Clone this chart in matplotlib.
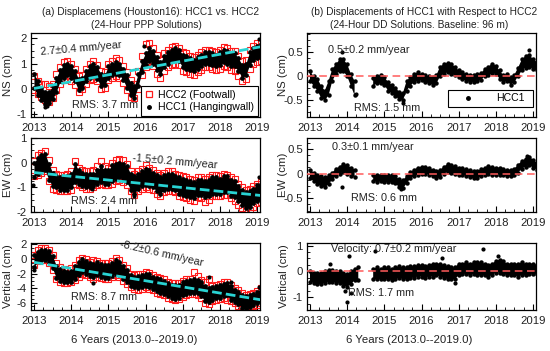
import numpy as np
import matplotlib
matplotlib.use('Agg')
import matplotlib.pyplot as plt
from matplotlib.ticker import MultipleLocator
from matplotlib.lines import Line2D

plt.rcParams['font.family'] = ['Liberation Sans', 'DejaVu Sans']
plt.rcParams['font.size'] = 8

# sample epochs (decimal year), 0.1-year spacing 2013.0 ... 2019.1
t = np.round(np.arange(2013.0, 2019.1001, 0.1), 1)
nan = np.nan

# ---------------- (a) PPP solutions, cm ----------------
ns_hcc1_lo = [0.05, -0.25, -0.45, -0.6, -0.55, -0.4, -0.1, 0.3, 0.45, 0.55,
              0.45, 0.3, -0.05, 0.05, 0.3, 0.45, 0.5, 0.4, 0.1, 0.15,
              0.45, 0.55, 0.6, 0.55, 0.35, 0.05, -0.25, -0.35, 0.1, 0.65,
              0.95, 1.1, 1.0, 0.75, 0.6, 0.85, 1.0, 1.1, 1.15, 1.1,
              0.85, 0.8, 0.75, 0.7, 0.8, 0.9, 1.0, 1.0, 0.95, 0.9,
              0.95, 1.05, 1.0, 0.9, 0.9, 0.7, 0.45, 0.55, 0.95, 1.15,
              1.2, 1.25]
ns_hcc1_hi = [0.6, 0.3, 0.05, -0.1, -0.1, 0.1, 0.45, 0.75, 0.95, 1.0,
              0.9, 0.7, 0.4, 0.45, 0.7, 0.9, 1.0, 0.85, 0.6, 0.55,
              0.9, 1.0, 1.05, 1.0, 0.8, 0.55, 0.25, 0.1, 0.6, 1.1,
              1.4, 1.6, 1.5, 1.25, 1.05, 1.3, 1.45, 1.55, 1.6, 1.55,
              1.35, 1.3, 1.2, 1.15, 1.25, 1.35, 1.45, 1.45, 1.4, 1.35,
              1.45, 1.55, 1.5, 1.4, 1.4, 1.2, 0.95, 1.0, 1.45, 1.6,
              1.7, 1.75]
ns_hcc2_lo = [-0.05, -0.2, -0.3, -0.45, -0.5, -0.35, -0.05, 0.2, 0.35, 0.4,
              0.3, 0.15, -0.1, 0.0, 0.2, 0.35, 0.4, 0.3, 0.0, 0.05,
              0.35, 0.45, 0.5, 0.45, 0.25, -0.05, -0.3, -0.35, 0.0, 0.55,
              0.85, 1.0, 0.9, 0.6, 0.45, 0.7, 0.85, 0.95, 1.0, 0.95,
              0.7, 0.65, 0.6, 0.55, 0.65, 0.75, 0.85, 0.85, 0.8, 0.75,
              0.8, 0.9, 0.85, 0.75, 0.7, 0.5, 0.3, 0.4, 0.8, 1.0,
              1.05, 1.1]
ns_hcc2_hi = [0.5, 0.3, 0.2, 0.2, 0.1, 0.2, 0.6, 0.85, 1.05, 1.1,
              1.0, 0.8, 0.5, 0.55, 0.8, 1.0, 1.1, 0.95, 0.7, 0.65,
              1.0, 1.1, 1.2, 1.15, 0.9, 0.65, 0.35, 0.2, 0.7, 1.3,
              1.75, 1.8, 1.6, 1.35, 1.15, 1.4, 1.55, 1.65, 1.7, 1.6,
              1.45, 1.4, 1.3, 1.25, 1.35, 1.45, 1.55, 1.55, 1.5, 1.45,
              1.55, 1.65, 1.6, 1.5, 1.5, 1.3, 1.1, 1.15, 1.55, 1.7,
              1.8, 1.85]

ew_hcc1_lo = [-0.6, -0.45, -0.35, -0.3, -0.7, -0.95, -1.0, -1.1, -1.1, -1.1,
              -1.0, -0.8, -0.85, -0.95, -1.0, -1.0, -0.95, -0.85, -0.8, -0.85,
              -0.85, -0.75, -0.65, -0.6, -0.7, -0.8, -1.1, -1.25, -1.05, -0.95,
              -0.9, -0.95, -1.0, -1.15, -1.25, -1.1, -1.05, -1.05, -1.1, -1.25,
              -1.3, -1.35, -1.4, -1.45, -1.3, -1.3, -1.4, -1.35, -1.25, -1.25,
              -1.25, -1.2, -1.2, -1.35, -1.4, -1.55, -1.7, -1.85, -1.8, -1.65,
              -1.55, -1.5]
ew_hcc1_hi = [0.0, 0.2, 0.3, 0.35, -0.05, -0.4, -0.55, -0.6, -0.6, -0.55,
              -0.45, -0.05, -0.3, -0.4, -0.45, -0.45, -0.45, -0.3, -0.15, -0.3,
              -0.3, -0.1, -0.05, 0.0, -0.05, -0.15, -0.45, -0.55, -0.45, -0.35,
              -0.25, -0.3, -0.4, -0.5, -0.6, -0.5, -0.45, -0.45, -0.55, -0.6,
              -0.65, -0.7, -0.75, -0.8, -0.7, -0.7, -0.75, -0.7, -0.6, -0.6,
              -0.65, -0.55, -0.55, -0.7, -0.75, -0.95, -1.1, -1.2, -1.15, -1.05,
              -0.9, -0.85]
ew_hcc2_lo = [-0.55, -0.5, -0.4, -0.35, -0.75, -1.05, -1.1, -1.15, -1.15, -1.15,
              -1.1, -0.85, -0.9, -1.0, -1.05, -1.05, -1.0, -0.9, -0.85, -0.9,
              -0.9, -0.85, -0.75, -0.7, -0.8, -0.9, -1.15, -1.3, -1.15, -1.05,
              -1.0, -1.05, -1.1, -1.25, -1.35, -1.2, -1.15, -1.15, -1.2, -1.35,
              -1.4, -1.45, -1.5, -1.55, -1.4, -1.45, -1.6, -1.5, -1.35, -1.35,
              -1.35, -1.3, -1.3, -1.45, -1.55, -1.7, -1.85, -1.9, -1.9, -1.8,
              -1.65, -1.6]
ew_hcc2_hi = [0.05, 0.3, 0.4, 0.48, 0.1, -0.3, -0.45, -0.5, -0.5, -0.45,
              -0.35, 0.05, -0.2, -0.3, -0.35, -0.35, -0.3, -0.15, 0.05, -0.15,
              -0.2, 0.0, 0.1, 0.15, 0.1, -0.05, -0.35, -0.45, -0.35, -0.25,
              -0.1, -0.2, -0.3, -0.4, -0.5, -0.4, -0.35, -0.35, -0.45, -0.5,
              -0.55, -0.6, -0.65, -0.7, -0.6, -0.6, -0.65, -0.6, -0.5, -0.5,
              -0.55, -0.45, -0.5, -0.6, -0.65, -0.85, -1.0, -1.1, -1.05, -0.95,
              -0.85, -0.8]

up_hcc1_lo = [-1.1, -0.3, -0.2, -0.1, -0.4, -1.3, -2.6, -3.0, -3.2, -3.2,
              -3.1, -2.7, -2.2, -1.8, -2.0, -2.3, -2.5, -2.2, -2.45, -2.6,
              -2.55, -2.3, -2.0, -2.2, -2.8, -3.2, -3.7, -3.9, -4.0, -3.9,
              -3.75, -3.9, -4.1, -4.4, -4.6, -4.8, -5.1, -5.3, -5.5, -5.3,
              -5.0, -4.8, -4.65, -4.6, -4.7, -5.1, -5.8, -5.9, -5.6, -5.4,
              -5.3, -5.1, -5.0, -5.6, -5.9, -6.2, -6.7, -6.9, -6.6, -6.3,
              -6.1, -5.9]
up_hcc1_hi = [0.5, 1.0, 1.25, 1.25, 1.1, 0.4, -0.9, -1.4, -1.7, -1.8,
              -1.6, -1.0, -0.4, 0.0, -0.25, -0.6, -0.7, -0.45, -0.7, -0.85,
              -0.8, -0.6, -0.1, -0.4, -1.0, -1.5, -2.2, -2.4, -2.3, -2.2,
              -2.0, -2.1, -2.4, -2.65, -2.8, -3.0, -3.3, -3.5, -3.5, -3.5,
              -3.2, -3.0, -2.9, -2.8, -2.9, -3.1, -3.7, -4.0, -3.9, -3.75,
              -3.6, -3.4, -3.3, -3.7, -4.2, -4.5, -4.9, -5.1, -5.0, -4.8,
              -4.5, -4.1]
up_hcc2_lo = [-0.8, -0.3, -0.2, -0.1, -0.5, -1.5, -2.8, -3.2, -3.35, -3.35,
              -3.2, -2.9, -2.4, -2.0, -2.2, -2.5, -2.7, -2.4, -2.6, -2.8,
              -2.7, -2.5, -2.2, -2.4, -3.0, -3.4, -3.9, -4.1, -4.2, -4.1,
              -3.9, -4.1, -4.3, -4.6, -4.8, -5.0, -5.3, -5.5, -5.6, -5.5,
              -5.2, -5.0, -4.85, -4.8, -4.9, -5.3, -6.0, -6.2, -5.8, -5.6,
              -5.5, -5.3, -5.6, -5.8, -6.1, -6.4, -6.9, -7.0, -6.8, -6.5,
              -6.3, -6.1]
up_hcc2_hi = [0.6, 1.2, 1.5, 1.5, 1.3, 0.6, -0.6, -1.1, -1.4, -1.5,
              -1.3, -0.8, -0.2, 0.2, 0.0, -0.4, -0.2, -0.3, -0.5, -0.6,
              -0.6, -0.3, 0.1, -0.2, -0.8, -1.3, -2.0, -2.2, -2.1, -2.0,
              -1.8, -1.9, -2.2, -2.45, -2.6, -2.8, -3.1, -3.3, -3.3, -3.3,
              -3.0, -2.8, -2.7, -1.8, -2.3, -2.9, -3.2, -2.8, -3.7, -3.55,
              -3.4, -3.2, -3.1, -3.5, -4.0, -4.3, -4.7, -4.9, -4.8, -4.6,
              -4.4, -4.0]

# trend lines (start at 2013.0, end at 2019.1)
trend_t = [2013.0, 2019.1]
ns_trend = [0.02, 1.66]
ew_trend = [-0.40, -1.33]
up_trend = [-0.45, -5.6]

# outlying HCC1 points (t, value)
ns_out_t, ns_out_v = [2013.3, 2013.35, 2019.05, 2015.95], [-0.72, -0.65, 1.95, 1.7]
ew_out_t, ew_out_v = [2012.98, 2015.68, 2019.05, 2014.55], [-0.9, -1.35, -0.6, -1.05]
up_out_t, up_out_v = [2013.0, 2014.6, 2017.7, 2018.3, 2019.05], [-1.5, -3.3, -2.5, -3.1, -3.8]

# ---------------- (b) DD solutions, cm ----------------
dns_lo = [-0.1, -0.2, -0.3, -0.45, -0.5, -0.4, -0.1, 0.05, 0.1, 0.1,
          0.0, -0.2, -0.4, nan, nan, nan, nan, -0.2, -0.15, -0.15,
          -0.18, -0.3, -0.35, -0.42, -0.48, -0.5, -0.3, -0.2, -0.12, -0.1,
          -0.08, -0.12, -0.15, -0.18, -0.15, 0.0, 0.05, 0.08, 0.05, 0.02,
          -0.02, -0.06, -0.1, -0.12, -0.12, -0.1, -0.08, 0.0, 0.02, 0.06,
          0.05, -0.05, -0.12, -0.1, -0.18, -0.12, 0.0, 0.12, 0.18, 0.2,
          0.15, 0.12]
dns_hi = [0.1, 0.0, -0.05, -0.2, -0.3, -0.1, 0.15, 0.25, 0.35, 0.35,
          0.25, 0.05, -0.1, nan, nan, nan, nan, -0.03, 0.0, 0.02,
          -0.02, -0.12, -0.18, -0.25, -0.32, -0.35, -0.1, -0.02, 0.05, 0.08,
          0.05, 0.02, 0.0, -0.02, 0.02, 0.2, 0.25, 0.28, 0.25, 0.2,
          0.12, 0.08, 0.05, 0.03, 0.03, 0.05, 0.06, 0.15, 0.2, 0.26,
          0.22, 0.12, 0.02, 0.05, -0.02, 0.03, 0.18, 0.35, 0.42, 0.45,
          0.35, 0.3]
dew_lo = [-0.1, -0.15, -0.22, -0.26, -0.28, -0.22, -0.12, -0.05, 0.0, 0.03,
          0.0, -0.05, -0.07, nan, nan, nan, nan, -0.15, -0.17, -0.16,
          -0.18, -0.17, -0.18, -0.2, -0.28, -0.3, -0.2, -0.1, -0.05, -0.02,
          0.0, 0.0, -0.02, -0.06, -0.1, -0.08, 0.0, 0.03, 0.02, 0.0,
          -0.02, -0.03, -0.05, -0.07, -0.1, -0.1, -0.06, -0.02, 0.0, -0.02,
          -0.03, -0.02, -0.04, -0.06, -0.06, -0.04, 0.02, 0.1, 0.14, 0.17,
          0.12, 0.08]
dew_hi = [0.08, 0.02, -0.02, -0.06, -0.08, -0.04, 0.02, 0.1, 0.14, 0.2,
          0.17, 0.12, 0.08, nan, nan, nan, nan, -0.02, -0.03, -0.03,
          -0.04, -0.03, -0.04, -0.05, -0.12, -0.14, -0.05, 0.03, 0.08, 0.12,
          0.14, 0.14, 0.12, 0.08, 0.06, 0.07, 0.14, 0.19, 0.18, 0.15,
          0.12, 0.11, 0.09, 0.08, 0.05, 0.05, 0.09, 0.12, 0.16, 0.13,
          0.12, 0.12, 0.1, 0.07, 0.08, 0.1, 0.18, 0.26, 0.3, 0.34,
          0.28, 0.22]
dup_lo = [-0.4, -0.45, -0.5, -0.5, -0.45, -0.4, -0.4, -0.45, -0.45, -0.55,
          -0.6, -0.5, -0.35, -0.35, nan, nan, nan, -0.3, -0.3, -0.3,
          -0.3, -0.3, -0.35, -0.3, -0.25, -0.3, -0.3, -0.25, -0.25, -0.2,
          -0.2, -0.25, -0.2, -0.2, -0.15, -0.2, -0.25, -0.3, -0.3, -0.3,
          -0.15, -0.1, -0.1, -0.15, -0.1, -0.15, -0.15, -0.15, -0.2, -0.15,
          -0.05, -0.05, -0.1, -0.15, -0.15, -0.15, -0.2, -0.15, -0.15, -0.1,
          -0.1, -0.1]
dup_hi = [0.0, -0.05, -0.05, -0.05, 0.0, 0.05, 0.05, 0.0, 0.0, -0.05,
          -0.1, 0.0, 0.1, 0.15, nan, nan, nan, 0.1, 0.15, 0.1,
          0.15, 0.15, 0.1, 0.15, 0.2, 0.15, 0.15, 0.2, 0.2, 0.25,
          0.25, 0.2, 0.25, 0.3, 0.3, 0.3, 0.25, 0.2, 0.15, 0.15,
          0.3, 0.3, 0.35, 0.3, 0.35, 0.35, 0.35, 0.3, 0.25, 0.3,
          0.4, 0.45, 0.4, 0.3, 0.3, 0.3, 0.3, 0.35, 0.3, 0.3,
          0.3, 0.25]
dns_out_t, dns_out_v = [2013.85, 2018.88, 2014.25, 2015.5], [0.5, 0.55, -0.38, -0.55]
dew_out_t, dew_out_v = [2013.85, 2015.45, 2018.85], [-0.27, -0.32, 0.35]
dup_out_t, dup_out_v = ([2014.0, 2014.05, 2014.75, 2017.65, 2013.95, 2014.1,
                         2018.05, 2016.55, 2013.55, 2016.9],
                        [-1.2, 0.6, 0.8, 0.85, -0.75, -0.85, 0.6, 0.5, 0.3, -0.45])

CYAN = '#29d3d3'
RED = '#ff1a1a'
ZRED = '#ff5b5b'
TXT = '#222222'

fig = plt.figure(figsize=(5.5, 3.51), dpi=100)

W = 229 / 550
lx, rx = 31 / 550, 307 / 550
rows = [(1 - 117 / 351, 84 / 351), (1 - 212 / 351, 74 / 351), (1 - 310 / 351, 67 / 351)]


def fmt_int(v, p):
    return '%d' % round(v)


def fmt_half(v, p):
    if abs(v) < 1e-9:
        return '0'
    return '%.1f' % v


def style(ax, ylim, major, minor, fmt):
    ax.set_xlim(2012.92, 2019.08)
    ax.set_ylim(*ylim)
    ax.xaxis.set_major_locator(MultipleLocator(1))
    ax.xaxis.set_minor_locator(MultipleLocator(0.25))
    ax.yaxis.set_major_locator(MultipleLocator(major))
    ax.yaxis.set_minor_locator(MultipleLocator(minor))
    ax.yaxis.set_major_formatter(plt.FuncFormatter(fmt))
    ax.tick_params(which='both', direction='in', top=False, right=False,
                   labelsize=8.2, colors='black', labelcolor=TXT)
    ax.tick_params(axis='x', pad=4)
    ax.tick_params(axis='y', pad=3)
    ax.tick_params(which='major', length=4, width=0.8)
    ax.tick_params(which='minor', length=2.5, width=0.6)
    for s in ax.spines.values():
        s.set_linewidth(0.9)


def draw_ppp(ax, lo1, hi1, lo2, hi2, trend, out_t, out_v):
    lo1, hi1, lo2, hi2 = map(np.asarray, (lo1, hi1, lo2, hi2))
    for arr in (lo2, hi2):
        ax.plot(t, arr, ls='none', marker='s', ms=4.0, mfc='none', mec=RED, mew=0.8, zorder=2)
    ax.fill_between(t, lo1, hi1, color='black', lw=0, zorder=3)
    for arr in (lo1, hi1):
        ax.plot(t, arr, ls='none', marker='o', ms=2.4, color='black', zorder=3)
    ax.plot(out_t, out_v, ls='none', marker='o', ms=2.0, color='black', zorder=3)
    ax.plot(trend_t, trend, ls=(0, (3.5, 1.5)), color=CYAN, lw=2.0, zorder=4)


def draw_dd(ax, lo, hi, out_t, out_v):
    lo, hi = np.asarray(lo), np.asarray(hi)
    ok = ~np.isnan(lo)
    ax.fill_between(t, lo, hi, where=ok, color='black', lw=0, zorder=3)
    for arr in (lo, hi):
        ax.plot(t, arr, ls='none', marker='o', ms=2.2, color='black', zorder=3)
    ax.plot(out_t, out_v, ls='none', marker='o', ms=2.0, color='black', zorder=3)
    ax.axhline(0, color=ZRED, ls=(0, (5, 3)), lw=1.1, zorder=4)


def note(ax, x, y, s, rot=0):
    ax.text(x, y, s, transform=ax.transAxes, ha='center', va='center',
            rotation=rot, fontsize=7.8, color=TXT, zorder=6)


# ---- left column ----
ax = fig.add_axes([lx, rows[0][0], W, rows[0][1]])
draw_ppp(ax, ns_hcc1_lo, ns_hcc1_hi, ns_hcc2_lo, ns_hcc2_hi, ns_trend, ns_out_t, ns_out_v)
style(ax, (-1.1, 2.2), 1, 0.25, fmt_int)
ax.set_ylabel('NS (cm)', fontsize=8.2, labelpad=3, color=TXT)
note(ax, 0.218, 0.82, '2.7±0.4 mm/year', 5)
note(ax, 0.323, 0.143, 'RMS: 3.7 mm')
h1 = Line2D([], [], ls='none', marker='s', ms=5.0, mfc='none', mec=RED, mew=0.9)
h2 = Line2D([], [], ls='none', marker='o', ms=2.5, color='black')
leg = ax.legend([h1, h2], ['HCC2 (Footwall)', 'HCC1 (Hangingwall)'], loc='lower right',
                bbox_to_anchor=(0.992, 0.012), fontsize=7.6, frameon=True, fancybox=False,
                edgecolor='black', framealpha=1, borderpad=0.35, labelspacing=0.2,
                handlelength=0.8, handletextpad=0.5, borderaxespad=0)
leg.get_frame().set_linewidth(0.8)
leg.set_zorder(7)

ax = fig.add_axes([lx, rows[1][0], W, rows[1][1]])
draw_ppp(ax, ew_hcc1_lo, ew_hcc1_hi, ew_hcc2_lo, ew_hcc2_hi, ew_trend, ew_out_t, ew_out_v)
style(ax, (-2.0, 1.0), 1, 0.25, fmt_int)
ax.set_ylabel('EW (cm)', fontsize=8.2, labelpad=3, color=TXT)
note(ax, 0.629, 0.676, '-1.5±0.2 mm/year', -5)
note(ax, 0.319, 0.149, 'RMS: 2.4 mm')

ax = fig.add_axes([lx, rows[2][0], W, rows[2][1]])
draw_ppp(ax, up_hcc1_lo, up_hcc1_hi, up_hcc2_lo, up_hcc2_hi, up_trend, up_out_t, up_out_v)
style(ax, (-7.0, 2.2), 2, 0.5, fmt_int)
ax.set_ylabel('Vertical (cm)', fontsize=8.2, labelpad=3, color=TXT)
note(ax, 0.572, 0.836, '-8.2±0.6 mm/year', -13)
note(ax, 0.319, 0.194, 'RMS: 8.7 mm')

# ---- right column ----
ax = fig.add_axes([rx, rows[0][0], W, rows[0][1]])
draw_dd(ax, dns_lo, dns_hi, dns_out_t, dns_out_v)
style(ax, (-0.85, 0.9), 0.5, 0.125, fmt_half)
ax.set_ylabel('NS (cm)', fontsize=8.2, labelpad=-3, color=TXT)
note(ax, 0.271, 0.80, '0.5±0.2 mm/year')
note(ax, 0.349, 0.107, 'RMS: 1.5 mm')
h3 = Line2D([], [], ls='none', marker='o', ms=2.5, color='black')
leg = ax.legend([h3], ['HCC1'], loc='lower right', bbox_to_anchor=(0.616, 0.12, 0.371, 0.225),
                mode='expand', fontsize=7.6, frameon=True, fancybox=False, edgecolor='black',
                framealpha=1, borderpad=0.35, handlelength=3.0, handletextpad=1.2, borderaxespad=0)
leg.get_frame().set_linewidth(0.8)
leg.set_zorder(7)

ax = fig.add_axes([rx, rows[1][0], W, rows[1][1]])
draw_dd(ax, dew_lo, dew_hi, dew_out_t, dew_out_v)
style(ax, (-0.78, 0.72), 0.5, 0.125, fmt_half)
ax.set_ylabel('EW (cm)', fontsize=8.2, labelpad=-3, color=TXT)
note(ax, 0.288, 0.878, '0.3±0.1 mm/year')
note(ax, 0.336, 0.189, 'RMS: 0.6 mm')

ax = fig.add_axes([rx, rows[2][0], W, rows[2][1]])
draw_dd(ax, dup_lo, dup_hi, dup_out_t, dup_out_v)
style(ax, (-1.5, 1.1), 1, 0.25, fmt_int)
ax.set_ylabel('Vertical (cm)', fontsize=8.2, labelpad=3, color=TXT)
note(ax, 0.38, 0.91, 'Velocity: 0.7±0.2 mm/year')
note(ax, 0.323, 0.254, 'RMS: 1.7 mm')

# ---- titles / x labels ----
fig.text(150 / 550, 1 - 12 / 351, '(a) Displacemens (Houston16): HCC1 vs. HCC2',
         ha='center', va='center', fontsize=7.3, color=TXT)
fig.text(146 / 550, 1 - 25 / 351, '(24-Hour PPP Solutions)',
         ha='center', va='center', fontsize=7.3, color=TXT)
fig.text(424 / 550, 1 - 12 / 351, '(b) Displacements of HCC1 with Respect to HCC2',
         ha='center', va='center', fontsize=7.3, color=TXT)
fig.text(419 / 550, 1 - 25 / 351, '(24-Hour DD Solutions. Baseline: 96 m)',
         ha='center', va='center', fontsize=7.3, color=TXT)
fig.text(134 / 550, 1 - 340 / 351, '6 Years (2013.0--2019.0)',
         ha='center', va='center', fontsize=8.2, color=TXT)
fig.text(409 / 550, 1 - 340 / 351, '6 Years (2013.0--2019.0)',
         ha='center', va='center', fontsize=8.2, color=TXT)

fig.savefig('out.png', dpi=100)
